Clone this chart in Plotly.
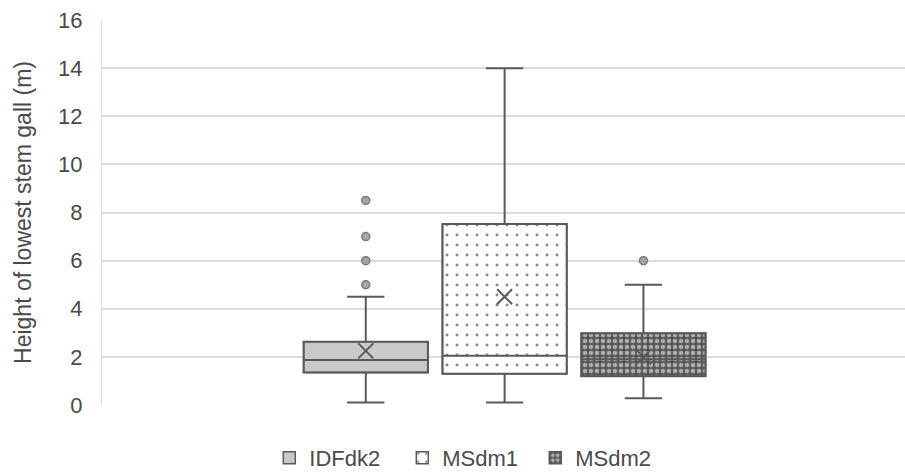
import plotly.graph_objects as go

# Summary statistics of the lowest stem gall height (m) per subzone
groups = ["IDFdk2", "MSdm1", "MSdm2"]
positions = [-1, 0, 1]
q1 = [1.35, 1.3, 1.2]
median = [1.87, 2.05, 1.9]
q3 = [2.63, 7.52, 2.98]
lower_fence = [0.1, 0.1, 0.28]
upper_fence = [4.5, 14.0, 5.0]
means = [2.25, 4.5, 2.0]
outliers = [[8.5, 7.0, 6.0, 5.0], [], [6.0]]

fill_colors = ["#c9c9c9", "#ffffff", "#585858"]
patterns = [
    dict(shape=""),
    dict(shape=".", fgcolor="#111111", bgcolor="#ffffff", size=10, solidity=0.07),
    dict(shape=".", fgcolor="#ffffff", bgcolor="#585858", size=6, solidity=0.45),
]

line_col = "#595959"
box_w = 0.895

fig = go.Figure()

# Box bodies with fill patterns (also provide the legend swatches)
for i, g in enumerate(groups):
    fig.add_trace(go.Bar(
        x=[positions[i]], y=[q3[i] - q1[i]], base=[q1[i]], width=box_w,
        name=g, showlegend=True,
        marker=dict(color=fill_colors[i], pattern=patterns[i],
                    line=dict(color=line_col, width=1.5)),
        hoverinfo="skip",
    ))

# Outlines, medians and whiskers
for i, g in enumerate(groups):
    fig.add_trace(go.Box(
        x=[positions[i]], q1=[q1[i]], median=[median[i]], q3=[q3[i]],
        lowerfence=[lower_fence[i]], upperfence=[upper_fence[i]],
        width=box_w, whiskerwidth=0.3, boxpoints=False,
        fillcolor="rgba(0,0,0,0)", line=dict(color=line_col, width=2),
        name=g, showlegend=False,
    ))

# Outlier points
for i, g in enumerate(groups):
    if outliers[i]:
        fig.add_trace(go.Scatter(
            x=[positions[i]] * len(outliers[i]), y=outliers[i], mode="markers",
            marker=dict(symbol="circle", size=8, color="#a6a6a6",
                        line=dict(color="#7a7a7a", width=1.5)),
            showlegend=False, name=g,
        ))

# Means
fig.add_trace(go.Scatter(
    x=positions, y=means, mode="markers",
    marker=dict(symbol="x-thin-open", size=15, color=line_col,
                line=dict(color=line_col, width=2)),
    showlegend=False, name="mean",
))

fig.update_layout(
    width=905, height=473,
    margin=dict(l=102, r=0, t=20, b=68),
    paper_bgcolor="white", plot_bgcolor="white",
    font=dict(family="Liberation Sans, Arial, sans-serif", color="#595959"),
    barmode="overlay",
    xaxis=dict(range=[-2.9, 2.884], showticklabels=False, showgrid=False,
               zeroline=False, showline=False, ticks=""),
    yaxis=dict(range=[0, 16], dtick=2, showgrid=True, gridcolor="#dcdcdc",
               gridwidth=1.5, zeroline=False, showline=True,
               linecolor="#dcdcdc", linewidth=1, ticks="",
               ticklabelstandoff=14, tickfont=dict(size=22, color="#4a4a4a"),
               title=dict(text="Height of lowest stem gall (m)",
                          font=dict(size=23, color="#4a4a4a"), standoff=20)),
    legend=dict(orientation="h", xref="container", yref="container",
                x=0.518, xanchor="center", y=0.032, yanchor="middle",
                font=dict(size=22, color="#4a4a4a"), traceorder="normal",
                itemwidth=30, tracegroupgap=0,
                entrywidth=88, entrywidthmode="pixels"),
)

fig.write_html("out.html")
